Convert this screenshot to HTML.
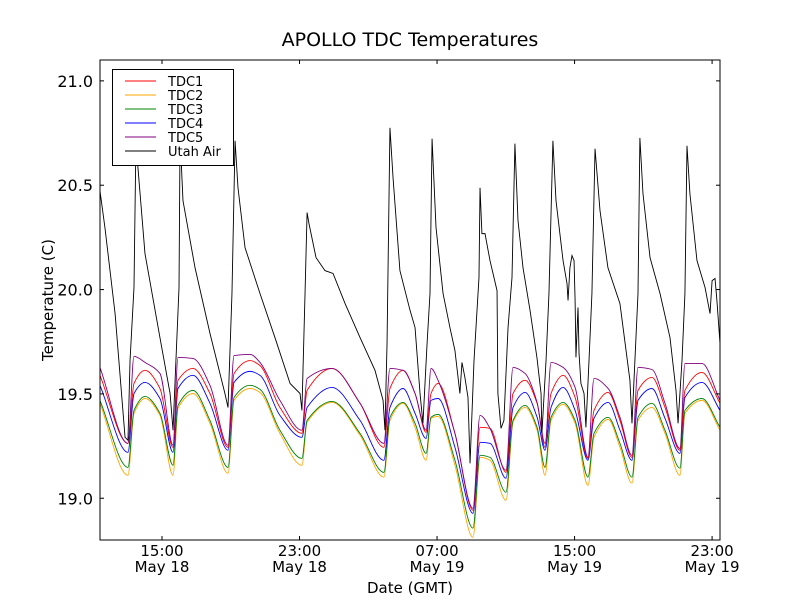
<!DOCTYPE html>
<html><head><meta charset="utf-8"><style>
html,body{margin:0;padding:0;background:#fff}
svg text{font-family:"DejaVu Sans","Liberation Sans",sans-serif}
</style></head><body>
<svg id="chart" width="800" height="600" viewBox="0 0 800 600" xmlns="http://www.w3.org/2000/svg">
<rect x="0" y="0" width="800" height="600" fill="#fff"/>
<text x="410" y="46" font-size="19" text-anchor="middle">APOLLO TDC Temperatures</text>
<defs><clipPath id="clip"><rect x="100" y="60" width="620" height="480"/></clipPath></defs>
<g id="series" clip-path="url(#clip)"></g>
<g id="axes"></g>
<text x="410" y="593" font-size="15" text-anchor="middle">Date (GMT)</text>
<text transform="translate(53,300) rotate(-90)" font-size="15" text-anchor="middle">Temperature (C)</text>
<g id="legend"></g>
</svg>
<script>
const tdcHours=[11.39,13.02,13.37,14.01,14.88,15.64,15.93,16.80,17.79,18.84,19.19,20.12,20.70,21.86,23.14,23.44,24.89,26.52,27.91,28.26,29.02,29.72,30.36,30.65,31.06,32.04,33.09,33.50,34.08,35.01,35.42,36.12,36.82,37.28,37.63,38.33,39.03,39.78,40.13,40.95,41.64,42.34,42.69,43.50,44.26,45.13,45.42,46.41,47.46];
const tdc1=[19.589,19.263,19.550,19.613,19.526,19.244,19.565,19.622,19.502,19.244,19.598,19.660,19.636,19.435,19.311,19.517,19.622,19.455,19.244,19.526,19.613,19.502,19.316,19.502,19.550,19.311,18.943,19.340,19.335,19.124,19.502,19.565,19.455,19.263,19.502,19.589,19.483,19.191,19.421,19.507,19.373,19.196,19.517,19.579,19.435,19.230,19.517,19.603,19.455];
const tdc2=[19.455,19.110,19.407,19.478,19.397,19.110,19.431,19.502,19.359,19.120,19.469,19.526,19.507,19.311,19.158,19.364,19.459,19.302,19.101,19.373,19.455,19.340,19.182,19.383,19.392,19.158,18.813,19.196,19.182,18.990,19.364,19.435,19.326,19.110,19.373,19.450,19.359,19.062,19.292,19.378,19.244,19.072,19.373,19.435,19.311,19.110,19.407,19.469,19.326];
const tdc3=[19.469,19.148,19.421,19.488,19.407,19.158,19.445,19.517,19.373,19.148,19.483,19.541,19.522,19.326,19.191,19.373,19.464,19.311,19.124,19.388,19.459,19.359,19.215,19.388,19.402,19.182,18.857,19.206,19.196,19.029,19.373,19.445,19.340,19.148,19.388,19.459,19.373,19.101,19.311,19.388,19.263,19.101,19.388,19.455,19.326,19.144,19.421,19.478,19.340];
const tdc4=[19.541,19.220,19.502,19.555,19.478,19.220,19.526,19.589,19.455,19.230,19.555,19.608,19.589,19.397,19.292,19.435,19.531,19.373,19.182,19.435,19.526,19.407,19.287,19.469,19.478,19.244,18.928,19.268,19.263,19.096,19.435,19.507,19.388,19.230,19.435,19.531,19.421,19.182,19.383,19.459,19.326,19.182,19.469,19.526,19.383,19.215,19.483,19.555,19.421];
const tdc5=[19.627,19.263,19.680,19.651,19.598,19.254,19.675,19.670,19.541,19.254,19.684,19.689,19.651,19.469,19.326,19.574,19.622,19.455,19.263,19.622,19.613,19.502,19.326,19.622,19.565,19.311,18.952,19.397,19.335,19.134,19.627,19.598,19.459,19.244,19.651,19.627,19.531,19.196,19.574,19.526,19.388,19.206,19.627,19.617,19.455,19.239,19.646,19.646,19.469];
const airHours=[11.39,11.68,12.27,12.85,13.02,13.14,13.37,13.49,13.60,14.01,14.88,15.47,15.64,15.81,15.99,16.05,16.22,16.92,17.79,18.66,18.84,19.07,19.25,19.42,19.83,20.70,21.57,22.45,23.03,23.14,23.32,23.44,23.55,23.96,24.48,24.95,25.65,26.52,27.39,27.86,27.97,28.09,28.26,28.44,28.84,29.43,29.72,30.01,30.18,30.42,30.59,30.71,30.94,31.35,31.75,32.04,32.33,32.45,32.62,32.80,32.92,33.15,33.44,33.50,33.61,33.79,34.08,34.49,34.54,34.72,34.89,35.13,35.36,35.53,35.71,36.00,36.41,36.81,37.05,37.10,37.34,37.51,37.74,37.92,38.33,38.56,38.62,38.73,38.85,38.97,39.03,39.08,39.20,39.26,39.37,39.55,39.66,39.84,40.01,40.19,40.48,40.94,41.64,42.22,42.34,42.51,42.69,42.80,42.98,43.39,43.97,44.55,44.90,45.02,45.25,45.42,45.54,45.71,46.12,46.59,46.88,47.00,47.17,47.28,47.46];
const airTemps=[20.474,20.297,19.885,19.292,19.278,19.660,20.010,20.751,20.584,20.172,19.770,19.502,19.326,19.660,20.010,20.737,20.426,20.105,19.790,19.502,19.435,19.981,20.713,20.488,20.201,19.981,19.770,19.550,19.502,19.421,19.981,20.369,20.316,20.153,20.091,20.077,19.933,19.770,19.613,19.469,19.326,19.742,20.775,20.536,20.091,19.900,19.818,19.502,19.359,19.742,19.981,20.723,20.297,19.981,19.818,19.708,19.502,19.651,19.579,19.483,19.167,19.660,20.058,20.488,20.268,20.268,20.139,19.995,19.502,19.335,19.373,19.818,20.058,20.699,20.330,20.105,19.900,19.675,19.502,19.311,19.660,19.981,20.713,20.426,20.139,20.029,19.948,20.105,20.163,20.139,19.948,19.675,19.914,19.694,19.550,19.502,19.340,19.660,19.981,20.675,20.378,20.105,19.933,19.565,19.359,19.660,19.981,20.727,20.459,20.153,19.981,19.770,19.517,19.359,19.660,19.981,20.689,20.459,20.139,20.010,19.885,20.043,20.053,19.948,19.742];
const yTicks=[19.0,19.5,20.0,20.5,21.0];
const yTickLabels=["19.0","19.5","20.0","20.5","21.0"];
const xTicks=[15,23,31,39,47];
const xTickTimes=["15:00","23:00","07:00","15:00","23:00"];
const xTickDates=["May 18","May 18","May 19","May 19","May 19"];
const seriesNames=["TDC1","TDC2","TDC3","TDC4","TDC5","Utah Air"];
const seriesColors=["#ff0000","#ffa500","#008000","#0000ff","#800080","#000000"];

const NS="http://www.w3.org/2000/svg";
const X0=100,X1=720,Y0=60,Y1=540,H0=11.393,H1=47.46,V0=18.8,V1=21.1;
function xs(h){return X0+(h-H0)/(H1-H0)*(X1-X0);}
function ys(v){return Y1-(v-V0)/(V1-V0)*(Y1-Y0);}
function mk(tag,attrs,parent){const e=document.createElementNS(NS,tag);for(const k in attrs)e.setAttribute(k,attrs[k]);parent.appendChild(e);return e;}
function monoPath(px,py){
  const n=px.length,d=[],m=[];
  for(let i=0;i<n-1;i++)d.push((py[i+1]-py[i])/(px[i+1]-px[i]));
  for(let i=0;i<n;i++){
    if(i===0)m.push(d[0]);else if(i===n-1)m.push(d[n-2]);
    else m.push(d[i-1]*d[i]<=0?0:2/(1/d[i-1]+1/d[i]));
  }
  let s="M"+px[0].toFixed(2)+","+py[0].toFixed(2);
  for(let i=0;i<n-1;i++){
    const h=(px[i+1]-px[i])/3;
    s+=" C"+(px[i]+h).toFixed(2)+","+(py[i]+m[i]*h).toFixed(2)+" "+(px[i+1]-h).toFixed(2)+","+(py[i+1]-m[i+1]*h).toFixed(2)+" "+px[i+1].toFixed(2)+","+py[i+1].toFixed(2);
  }
  return s;
}
const sg=document.getElementById('series');
const tdcs=[tdc1,tdc2,tdc3,tdc4,tdc5];
const order=[1,2,3,0,4];
order.forEach(i=>{
  const px=tdcHours.map(xs),py=tdcs[i].map(ys);
  const p=mk('path',{d:monoPath(px,py),fill:'none',stroke:seriesColors[i],'stroke-width':0.9},sg);
  
  
});
{
  const pts=airHours.map((h,i)=>xs(h).toFixed(2)+","+ys(airTemps[i]).toFixed(2)).join(" ");
  const p=mk('polyline',{points:pts,fill:'none',stroke:'#000','stroke-width':0.9},sg);
  
  
}
const ag=document.getElementById('axes');
{
  const f=mk('rect',{x:X0,y:Y0,width:X1-X0,height:Y1-Y0,fill:'none',stroke:'#000','stroke-width':1},ag);
  
  
}
yTicks.forEach((v,i)=>{
  const y=ys(v);
  mk('line',{x1:X0,x2:X0+4,y1:y,y2:y,stroke:'#000'},ag);
  mk('line',{x1:X1-4,x2:X1,y1:y,y2:y,stroke:'#000'},ag);
  const t=mk('text',{x:93,y:y+6,'font-size':16,'text-anchor':'end'},ag);
  t.textContent=yTickLabels[i];
  
  
});
xTicks.forEach((h,i)=>{
  const x=xs(h);
  mk('line',{x1:x,x2:x,y1:Y1,y2:Y1-4,stroke:'#000'},ag);
  mk('line',{x1:x,x2:x,y1:Y0,y2:Y0+4,stroke:'#000'},ag);
  const t=mk('text',{x:x,y:556,'font-size':15,'text-anchor':'middle'},ag);
  t.textContent=xTickTimes[i];
  
  
  const t2=mk('text',{x:x,y:572,'font-size':15,'text-anchor':'middle'},ag);
  t2.textContent=xTickDates[i];
  
  
});
const lg=document.getElementById('legend');
mk('rect',{x:112.5,y:69.5,width:121,height:96,fill:'#fff',stroke:'#000','stroke-width':1},lg);
seriesNames.forEach((n,i)=>{
  const y=81+i*14;
  const e=mk('g',{},lg);
  
  
  mk('line',{x1:125,x2:156,y1:y,y2:y,stroke:seriesColors[i],'stroke-width':1},e);
  const t=mk('text',{x:168,y:y+5,'font-size':13},e);
  t.textContent=n;
});
</script>
</body></html>
